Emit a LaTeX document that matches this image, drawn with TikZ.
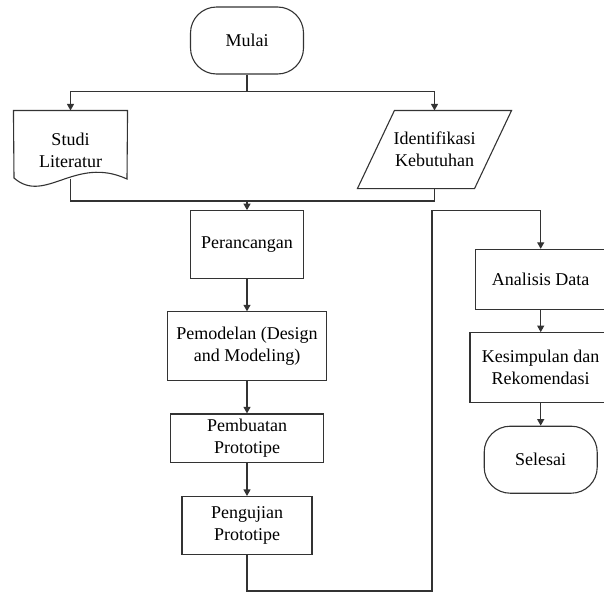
\documentclass[tikz,border=0pt]{standalone}
\usepackage{fontspec}
\setmainfont{Liberation Serif}
\usetikzlibrary{arrows.meta, calc}

\begin{document}
\begin{tikzpicture}[
    x=1pt, y=-1pt,
    line width=1.1pt,
    every node/.style={font=\fontsize{18}{21.7}\selectfont, align=center, inner sep=0pt},
    proc/.style={rectangle, draw=black!80, fill=white},
    term/.style={rectangle, rounded corners=26pt, draw=black!80, fill=white, minimum width=113pt, minimum height=67pt},
    link/.style={draw=black!80},
    arr/.style={draw=black!80, -{Triangle[length=6.5pt, width=7pt]}}
]
\useasboundingbox (0,0) rectangle (604,592);

% Start and inputs
\node[term] (mulai) at (247,40.5) {Mulai};
\node[minimum width=113pt, minimum height=78pt] (studi) at (70.5,150) {Studi\\Literatur};
\node[minimum width=153pt, minimum height=77pt] (ident) at (434.5,149.5) {Identifikasi\\Kebutuhan};

% Document and data outlines
\draw[link] (studi.north west) -- (studi.north east) -- (127,179)
    .. controls (75,155) and (45,205) .. (14,178) -- cycle;
\draw[link] (ident.south west) -- ($(ident.north west)+(37,0)$) -- (ident.north east)
    -- ($(ident.south east)+(-37,0)$) -- cycle;

% Main process column
\node[proc, minimum width=112.6pt, minimum height=67.6pt] (peranc) at (247,244.5) {Perancangan};
\node[proc, minimum width=158.7pt, minimum height=68.3pt] (pemod) at (247,346) {Pemodelan (Design\\and Modeling)};
\node[proc, minimum width=152.3pt, minimum height=48.7pt] (pembuat) at (247,438.3) {Pembuatan\\Prototipe};
\node[proc, minimum width=130pt, minimum height=58pt] (penguj) at (247,525.5) {Pengujian\\Prototipe};

% Right column
\node[proc, minimum width=130pt, minimum height=59.7pt] (analisis) at (540.7,279.2) {Analisis Data};
\node[proc, minimum width=141.4pt, minimum height=69.6pt] (kesimp) at (540.7,367.5) {Kesimpulan dan\\Rekomendasi};
\node[term] (selesai) at (540.7,459.7) {Selesai};

% Split and merge
\coordinate (split) at (247,91.5);
\coordinate (studiout) at (70.5,178.5);
\coordinate (merge) at (247,201);
\draw[link] (mulai.south) -- (split);
\draw[arr] (split) -| (studi.north);
\draw[arr] (split) -| (ident.north);
\draw[link] (studiout) |- (merge);
\draw[link] (ident.south) |- (merge);
\draw[arr] (merge) -- (peranc.north);

% Sequence arrows
\foreach \a/\b in {peranc/pemod, pemod/pembuat, pembuat/penguj, analisis/kesimp, kesimp/selesai}
    \draw[arr] (\a.south) -- (\b.north);

% Loop to the right column
\coordinate (loopa) at (432,591);
\coordinate (loopb) at (432,210.7);
\draw[arr] (penguj.south) |- (loopa) -- (loopb) -| (analisis.north);
\end{tikzpicture}
\end{document}
